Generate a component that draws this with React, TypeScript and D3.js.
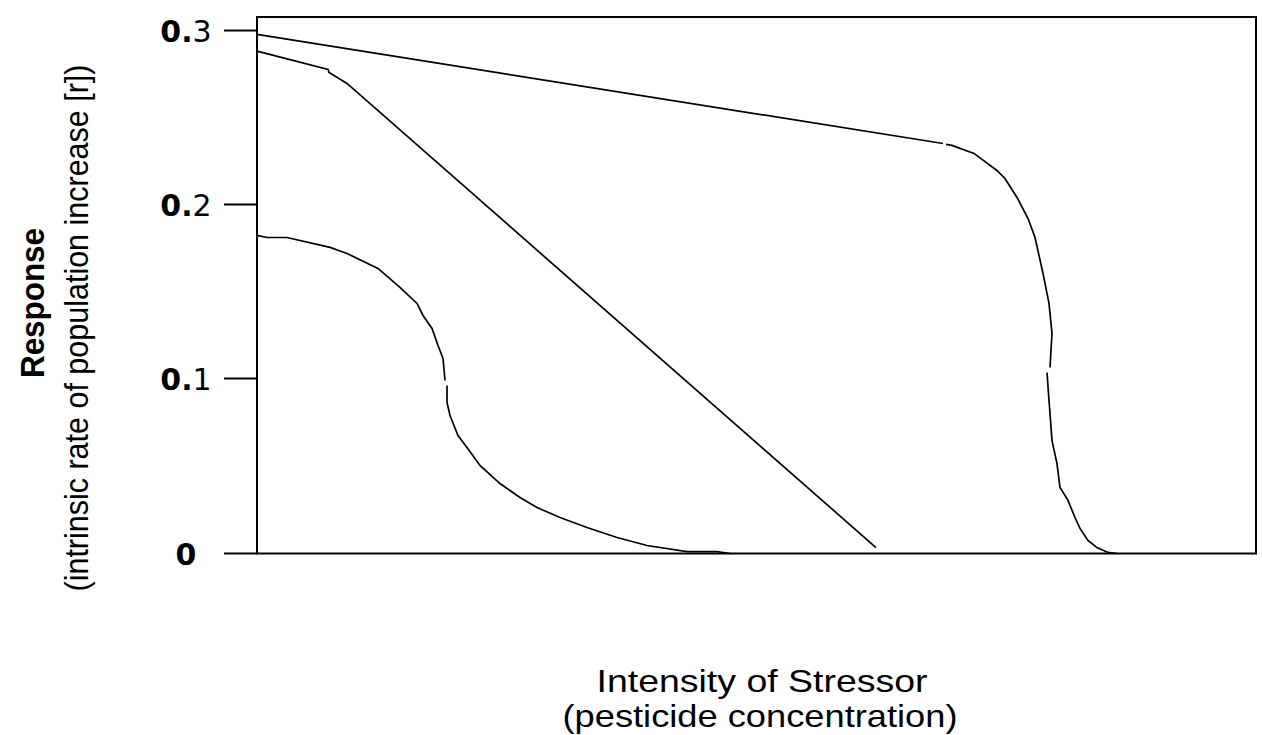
import { useRef, useEffect } from 'react';
import * as d3 from 'd3';

// Response curves: x = stressor intensity (arbitrary 0-100), y = r
// NaN marks the small breaks visible in the original drawing
interface Pt { x: number; y: number; }

const steepDrop: Pt[] = [
  { x: 0, y: 0.2983 }, { x: 68.67, y: 0.2356 },
  { x: NaN, y: NaN },
  { x: 68.97, y: 0.2351 }, { x: 69.57, y: 0.2345 }, { x: 71.77, y: 0.2299 },
  { x: 74.07, y: 0.2201 }, { x: 74.87, y: 0.2155 }, { x: 76.08, y: 0.2046 },
  { x: 77.18, y: 0.1925 }, { x: 77.88, y: 0.1816 }, { x: 78.68, y: 0.1609 },
  { x: 79.28, y: 0.1437 }, { x: 79.58, y: 0.1264 }, { x: 79.38, y: 0.1069 },
  { x: NaN, y: NaN },
  { x: 79.08, y: 0.104 }, { x: 79.28, y: 0.0879 }, { x: 79.58, y: 0.0649 },
  { x: 80.08, y: 0.0517 }, { x: 80.38, y: 0.0379 }, { x: 81.18, y: 0.0305 },
  { x: 81.88, y: 0.0207 }, { x: 82.38, y: 0.0144 }, { x: 83.18, y: 0.0075 },
  { x: 84.08, y: 0.0034 }, { x: 85.19, y: 0.0006 }, { x: 86.09, y: 0 },
];

const linearDecline: Pt[] = [
  { x: 0, y: 0.2887 }, { x: 7.11, y: 0.2782 }, { x: 7.21, y: 0.2764 },
  { x: 9.01, y: 0.2701 }, { x: 61.96, y: 0.0034 },
];

const earlyDrop: Pt[] = [
  { x: 0, y: 0.1828 }, { x: 1.0, y: 0.1816 }, { x: 3.0, y: 0.1816 },
  { x: 7.31, y: 0.1759 }, { x: 9.01, y: 0.1724 }, { x: 12.11, y: 0.1638 },
  { x: 14.31, y: 0.1529 }, { x: 16.02, y: 0.1437 }, { x: 16.62, y: 0.1368 },
  { x: 17.52, y: 0.1293 }, { x: 18.12, y: 0.1195 }, { x: 18.62, y: 0.1121 },
  { x: 18.82, y: 0.0994 },
  { x: NaN, y: NaN },
  { x: 19.02, y: 0.0966 }, { x: 19.02, y: 0.0868 }, { x: 19.32, y: 0.0793 },
  { x: 20.12, y: 0.0678 }, { x: 21.02, y: 0.0609 }, { x: 22.32, y: 0.0506 },
  { x: 24.32, y: 0.0402 }, { x: 26.33, y: 0.0322 }, { x: 28.03, y: 0.0264 },
  { x: 30.33, y: 0.0207 }, { x: 33.03, y: 0.0149 }, { x: 36.04, y: 0.0092 },
  { x: 39.04, y: 0.0046 }, { x: 43.04, y: 0.0011 }, { x: 46.05, y: 0.0011 },
  { x: 47.35, y: 0 },
];

const yTicks = [0, 0.1, 0.2, 0.3];
const yTitle = ['Response', '(intrinsic rate of population increase [r])'];
const xTitle = ['Intensity of Stressor', '(pesticide concentration)'];

const W = 1262;
const H = 735;

export default function App() {
  const svgRef = useRef<SVGSVGElement>(null);

  useEffect(() => {
    if (!svgRef.current) return;
    const svg = d3.select(svgRef.current);
    svg.selectAll('*').remove();

    const left = 257, right = 1256, top = 17, bottom = 553.5;
    const x = d3.scaleLinear().domain([0, 100]).range([left, right]);
    const y = d3.scaleLinear().domain([0, 0.3083]).range([bottom, top]);
    const font = 'Liberation Sans, Arial, sans-serif';

    // frame
    svg.append('rect')
      .attr('x', left).attr('y', top)
      .attr('width', right - left).attr('height', bottom - top)
      .attr('fill', 'none').attr('stroke', '#000').attr('stroke-width', 2);

    // y ticks + labels ("0." heavier than the last digit, like the scan)
    const tg = svg.append('g');
    yTicks.forEach(t => {
      const ty = Math.round(y(t)) - 0.5;
      tg.append('line')
        .attr('x1', 224).attr('x2', left)
        .attr('y1', ty).attr('y2', ty)
        .attr('stroke', '#000').attr('stroke-width', 2);
      const label = t === 0 ? '0' : d3.format('.1f')(t);
      const txt = tg.append('text')
        .attr('x', 186).attr('y', ty + 11)
        .attr('text-anchor', 'middle')
        .attr('font-family', 'DejaVu Sans')
        .attr('font-size', 30);
      if (label.length > 1) {
        txt.append('tspan').attr('font-weight', 'bold').text(label.slice(0, 2));
        txt.append('tspan').text(label.slice(2));
      } else {
        txt.attr('font-weight', 'bold').text(label);
      }
    });

    // curves
    const line = d3.line<Pt>()
      .defined(d => !isNaN(d.x))
      .x(d => x(d.x))
      .y(d => y(d.y));

    [steepDrop, linearDecline, earlyDrop].forEach(series => {
      svg.append('path')
        .attr('d', line(series))
        .attr('fill', 'none')
        .attr('stroke', '#000')
        .attr('stroke-width', 1.7);
    });

    // y-axis title
    svg.append('text')
      .attr('transform', 'translate(44,303) rotate(-90)')
      .attr('text-anchor', 'middle')
      .attr('font-family', font)
      .attr('font-weight', 'bold')
      .attr('font-size', 33)
      .attr('textLength', 150).attr('lengthAdjust', 'spacingAndGlyphs')
      .text(yTitle[0]);
    svg.append('text')
      .attr('transform', 'translate(88,328) rotate(-90)')
      .attr('text-anchor', 'middle')
      .attr('font-family', font)
      .attr('font-size', 33)
      .attr('textLength', 527).attr('lengthAdjust', 'spacingAndGlyphs')
      .text(yTitle[1]);

    // x-axis title
    svg.append('text')
      .attr('x', 762).attr('y', 692)
      .attr('text-anchor', 'middle')
      .attr('font-family', font)
      .attr('font-size', 32)
      .attr('textLength', 331).attr('lengthAdjust', 'spacingAndGlyphs')
      .text(xTitle[0]);
    svg.append('text')
      .attr('x', 760).attr('y', 727)
      .attr('text-anchor', 'middle')
      .attr('font-family', font)
      .attr('font-size', 32)
      .attr('textLength', 395).attr('lengthAdjust', 'spacingAndGlyphs')
      .text(xTitle[1]);
  }, []);

  return (
    <svg
      ref={svgRef}
      width={W}
      height={H}
      style={{ position: 'absolute', left: 0, top: 0, background: '#fff' }}
    />
  );
}
